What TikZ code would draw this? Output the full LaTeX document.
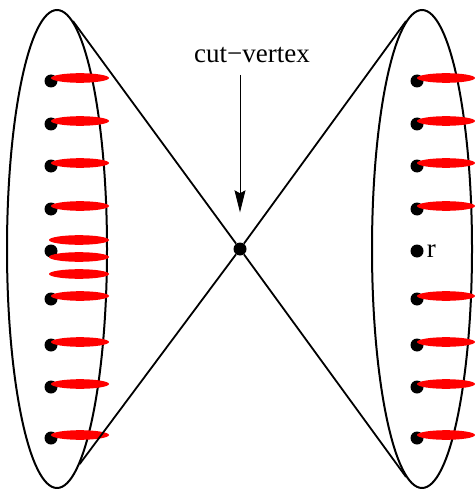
\documentclass[tikz,border=0pt]{standalone}
\usepackage{fontspec}
\setmainfont{Liberation Serif}
\usetikzlibrary{arrows.meta,calc,positioning,shapes.geometric}
\definecolor{pairred}{RGB}{255,0,0}

\begin{document}
\begin{tikzpicture}[x=1pt,y=-1pt,font=\fontsize{27}{32}\selectfont]
  \tikzset{vdot/.style={circle,fill=black,inner sep=0pt,minimum size=13pt},
    blob/.style={ellipse,draw,line width=2pt,minimum width=100pt,minimum height=478pt,inner sep=0pt},
    edgeline/.style={line width=1.8pt}}
  \useasboundingbox (0,0) rectangle (474,489);
  % ---------------- the two blocks
  \node[blob] (L) at (57,249) {};
  \node[blob] (R) at (422,249) {};
  % ---------------- vertices
  \foreach \k/\y in {1/81,2/124,3/166,4/209,5/251,6/299,7/345,8/387,9/438} {
    \node[vdot] (l\k) at (51,\y) {};
    \node[vdot] (r\k) at (417,\y) {};
  }
  \node[right=2pt of r5,inner sep=1pt] (rlab) {r};
  % ---------------- red pairs
  \foreach \k in {1,2,3,4,6,7,8,9} {
    \fill[pairred] ($(l\k)+(29,-3)$) ellipse (29 and 4.8);
    \fill[pairred] ($(r\k)+(29,-3)$) ellipse (29 and 4.8);
  }
  \foreach \dy in {-11,6,23} \fill[pairred] ($(l5)+(28,\dy)$) ellipse (30 and 4.8);
  % ---------------- cut vertex
  \node[vdot] (cv) at (240,249) {};
  \draw[edgeline] (L.86) -- (cv) -- (R.-94);
  \draw[edgeline] (L.-84) -- (cv) -- (R.94);
  \node[inner sep=2pt] (cvlab) at (252,55) {cut−vertex};
  \draw[-{Stealth[length=22pt,width=11pt,inset=3pt]},line width=0.9pt,shorten <=10pt,shorten >=30pt]
    (cv |- cvlab.south) -- (cv.north);
\end{tikzpicture}
\end{document}
